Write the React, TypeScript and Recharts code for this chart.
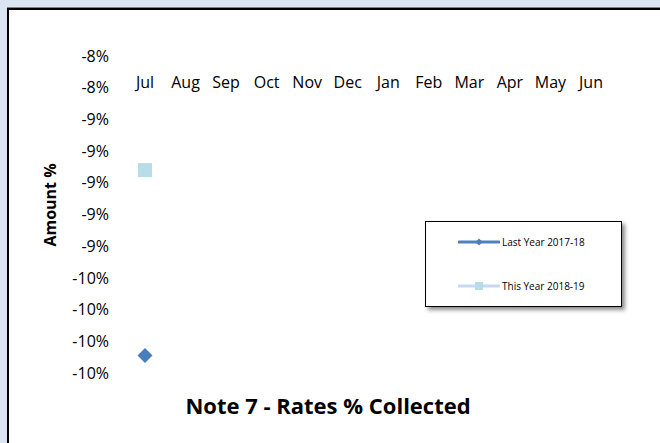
import { LineChart, Line, XAxis, YAxis } from 'recharts';

const months = ['Jul', 'Aug', 'Sep', 'Oct', 'Nov', 'Dec', 'Jan', 'Feb', 'Mar', 'Apr', 'May', 'Jun'];
const lastYear = [-10.09, null, null, null, null, null, null, null, null, null, null, null];
const thisYear = [-8.92, null, null, null, null, null, null, null, null, null, null, null];
const yTicks = [-10.2, -10.0, -9.8, -9.6, -9.4, -9.2, -9.0, -8.8, -8.6, -8.4, -8.2];
const seriesNames = ['Last Year 2017-18', 'This Year 2018-19'];

const data = months.map((month, i) => ({ month, lastYear: lastYear[i], thisYear: thisYear[i] }));

const FONT = '"Open Sans", sans-serif';

const DiamondDot = (props: any) => {
  const { cx, cy, value, index } = props;
  if (value == null || cx == null || cy == null) return <g key={`d-${index}`} />;
  const r = 7.5;
  return (
    <polygon
      key={`d-${index}`}
      points={`${cx},${cy - r} ${cx + r},${cy} ${cx},${cy + r} ${cx - r},${cy}`}
      fill="#4a7ebb"
    />
  );
};

const SquareDot = (props: any) => {
  const { cx, cy, value, index } = props;
  if (value == null || cx == null || cy == null) return <g key={`s-${index}`} />;
  const h = 7;
  return <rect key={`s-${index}`} x={cx - h} y={cy - h} width={h * 2} height={h * 2} fill="#b7dde8" />;
};

const MonthTick = (props: any) => {
  const { x, y, payload } = props;
  return (
    <text x={x} y={y} dy={40} textAnchor="middle" fill="#000" fontSize={16} fontFamily={FONT}>
      {payload.value}
    </text>
  );
};

const legendItems = [
  { name: seriesNames[0], line: '#4f81bd', marker: 'diamond', markerColor: '#4a7ebb' },
  { name: seriesNames[1], line: '#c6d9f1', marker: 'square', markerColor: '#b7dde8' },
];

function ChartLegend() {
  return (
    <div
      style={{
        position: 'absolute',
        left: 425,
        top: 221,
        width: 197,
        height: 86,
        boxSizing: 'border-box',
        border: '1.5px solid #000',
        background: '#fff',
        boxShadow: '3px 3px 4px rgba(0,0,0,0.45)',
        fontSize: 10,
        color: '#000',
      }}
    >
      {legendItems.map((it, i) => (
        <div
          key={it.name}
          style={{ position: 'absolute', left: 32, top: i === 0 ? 12 : 56, display: 'flex', alignItems: 'center', height: 16 }}
        >
          <svg width={42} height={12}>
            <line x1={1} y1={6} x2={41} y2={6} stroke={it.line} strokeWidth={3} strokeLinecap="round" />
            {it.marker === 'diamond' ? (
              <polygon points="21,2.5 24.5,6 21,9.5 17.5,6" fill={it.markerColor} />
            ) : (
              <rect x={17} y={2} width={8} height={8} fill={it.markerColor} />
            )}
          </svg>
          <span style={{ marginLeft: 2, whiteSpace: 'nowrap' }}>{it.name}</span>
        </div>
      ))}
    </div>
  );
}

export default function App() {
  return (
    <>
      <style>{`body{margin:0}`}</style>
      <div style={{ position: 'relative', width: 660, height: 443, background: '#dbe5f1', overflow: 'hidden', fontFamily: FONT }}>
        <div
          style={{
            position: 'absolute',
            left: 7,
            top: 8,
            width: 720,
            height: 500,
            background: '#fff',
            border: '2px solid #000',
            boxShadow: '0 -1px 0 #808080',
          }}
        />
        <div style={{ position: 'absolute', left: 0, top: 0 }}>
          <LineChart width={660} height={443} data={data} margin={{ top: 26, right: 49, bottom: 70, left: 40 }}>
            <XAxis
              dataKey="month"
              orientation="top"
              height={30}
              axisLine={false}
              tickLine={false}
              interval={0}
              padding={{ left: 20, right: 20 }}
              tick={<MonthTick />}
            />
            <YAxis
              width={85}
              domain={[-10.2, -8.2]}
              ticks={yTicks}
              interval={0}
              allowDataOverflow
              axisLine={false}
              tickLine={false}
              tickMargin={10}
              tickFormatter={(v: number) => `${Math.round(v)}%`}
              tick={{ fill: '#000', fontSize: 16, fontFamily: FONT }}
            />
            <Line
              name={seriesNames[0]}
              dataKey="lastYear"
              stroke="#4f81bd"
              strokeWidth={3}
              dot={DiamondDot}
              activeDot={false}
              isAnimationActive={false}
            />
            <Line
              name={seriesNames[1]}
              dataKey="thisYear"
              stroke="#c6d9f1"
              strokeWidth={3}
              dot={SquareDot}
              activeDot={false}
              isAnimationActive={false}
            />
          </LineChart>
        </div>
        <ChartLegend />
        <div
          style={{
            position: 'absolute',
            left: 50,
            top: 205,
            transform: 'translate(-50%, -50%) rotate(-90deg)',
            fontWeight: 700,
            fontSize: 16,
            whiteSpace: 'nowrap',
            color: '#000',
          }}
        >
          Amount %
        </div>
        <div
          style={{
            position: 'absolute',
            left: 328,
            top: 405,
            transform: 'translate(-50%, -50%)',
            fontWeight: 700,
            fontSize: 22,
            whiteSpace: 'nowrap',
            color: '#000',
          }}
        >
          Note 7 - Rates % Collected
        </div>
      </div>
    </>
  );
}
